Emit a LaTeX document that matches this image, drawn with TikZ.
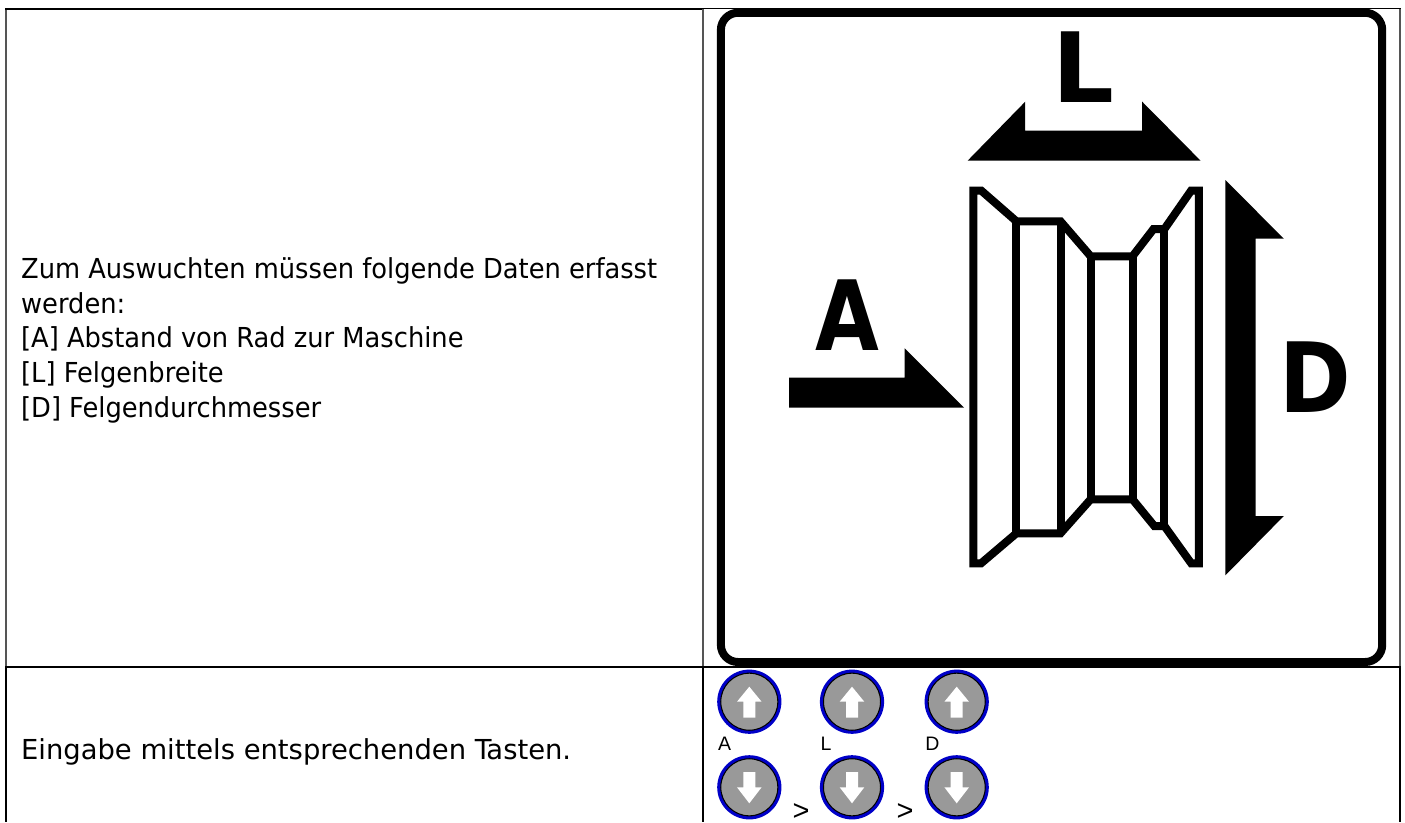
\documentclass[tikz,border=0pt]{standalone}
\usepackage{fontspec}
\newfontfamily\introfont{DejaVu Sans Condensed}[FakeStretch=1.04]
\newfontfamily\entryfont{DejaVu Sans Condensed}[FakeStretch=1.107]
\newfontfamily\symbolfont{DejaVu Sans}[BoldFont={DejaVu Sans Bold}]
\newfontfamily\keyfont{Liberation Sans}
\definecolor{keygray}{HTML}{999999}
\definecolor{keyblue}{HTML}{0000C8}
\definecolor{ruledim}{HTML}{555555}
\tikzset{
  x=1pt,y=-1pt,
  bodytext/.style={anchor=base west,inner sep=0pt,align=left,text=black},
  bigletter/.style={anchor=base,inner sep=0pt,font=\symbolfont\bfseries\fontsize{97}{97}\selectfont},
  keylabel/.style={anchor=base west,inner sep=0pt,font=\keyfont\fontsize{19.5}{19.5}\selectfont},
  gtsign/.style={anchor=base,inner sep=0pt,font=\keyfont\fontsize{29}{29}\selectfont},
  rule/.style={line width=2.2pt,black},
  ruledimmed/.style={line width=1.8pt,ruledim},
  wheel/.style={line width=8pt,line join=miter,miter limit=3,black},
  keybase/.style={circle,draw=black,line width=2pt,fill=keygray,minimum size=58pt,inner sep=0pt},
  keyring/.style={keyblue,line width=3pt},
}
\newcommand{\keypair}[3]{%
  \node[keybase] (#1up) at (#2,701.7) {};
  \draw[keyring] (#1up) circle[radius=30.6];
  \fill[white] (#2,686.7) -- (#2+12.3,701.7) -- (#2+6,701.7) -- (#2+6,717.5) -- (#2-6,717.5) -- (#2-6,701.7) -- (#2-12.3,701.7) -- cycle;
  \node[keybase] (#1down) at (#2,787.3) {};
  \draw[keyring] (#1down) circle[radius=30.6];
  \fill[white] (#2,803.3) -- (#2+12.3,787.3) -- (#2+6,787.3) -- (#2+6,772) -- (#2-6,772) -- (#2-6,787.3) -- (#2-12.3,787.3) -- cycle;
  \node[keylabel] (#1label) at (#2-31.5,750) {#3};
}
\begin{document}
\begin{tikzpicture}
\useasboundingbox (0,0) rectangle (1405,822);
\fill[white] (0,0) rectangle (1405,822);
% table rules
\draw[ruledimmed] (5.8,8) -- (5.8,667);
\draw[ruledimmed] (702.7,8) -- (702.7,667);
\draw[ruledimmed] (1400,8) -- (1400,667);
\draw[rule] (5,8.7) -- (702,8.7);
\draw[line width=1pt,black] (702,8.5) -- (1400.5,8.5);
\draw[rule] (5,666.7) -- (1401,666.7);
\draw[rule] (5.8,666) -- (5.8,822);
\draw[rule] (702.7,666) -- (702.7,822);
\draw[rule] (1400,666) -- (1400,822);
% frame
\draw[black,line width=8pt,rounded corners=17pt] (720.9,12.8) rectangle (1382.2,662);
% L
\node[bigletter] (letterL) at (1083,102.3) {L};
\fill[black] (967.6,160.7) -- (1025.2,101.7) -- (1025.2,130.7) -- (1142.2,130.7) -- (1142.2,101.7) -- (1200.6,160.7) -- cycle;
% wheel
\draw[wheel] (973.3,563.3) -- (973.3,190.5) -- (981.1,190.5) -- (1016.4,221.3) -- (1060.5,221.3) -- (1090.7,256.3) -- (1132.5,256.3) -- (1153.5,229) -- (1164.4,229) -- (1191.2,190.5) -- (1198.8,190.5) -- (1198.8,563.3) -- (1191.2,563.3) -- (1164.4,526) -- (1154.3,526) -- (1132.5,499.3) -- (1090.7,499.3) -- (1060.5,533.3) -- (1016.4,533.3) -- (981.1,563.3) -- cycle;
\draw[wheel] (1016.4,221.3) -- (1016.4,533.3);
\draw[wheel] (1060.5,221.3) -- (1060.5,533.3);
\draw[wheel] (1090.7,256.3) -- (1090.7,499.3);
\draw[wheel] (1132.5,256.3) -- (1132.5,499.3);
\draw[wheel] (1164.4,229) -- (1164.4,526);
% D arrow
\fill[black] (1225.4,180) -- (1283.8,238.7) -- (1255.5,238.7) -- (1255.5,516) -- (1283.8,516) -- (1225.4,575.3) -- cycle;
\node[bigletter] (letterD) at (1315.5,412.3) {\scalebox{0.89}[1]{D}};
% A
\node[bigletter] (letterA) at (847.3,350) {\scalebox{0.85}[1]{A}};
\fill[black] (789.1,377.7) -- (904.7,377.7) -- (904.7,348.3) -- (964,407.7) -- (789.1,407.7) -- cycle;
% text
\node[bodytext,anchor=north west,font=\introfont\fontsize{27.5}{34.9}\selectfont] (intro) at (21,257) {Zum Auswuchten müssen folgende Daten erfasst\\werden:\\{[A]} Abstand von Rad zur Maschine\\{[L]} Felgenbreite\\{[D]} Felgendurchmesser};
\node[bodytext,font=\entryfont\fontsize{27.5}{34.7}\selectfont] (entry) at (21,759) {Eingabe mittels entsprechenden Tasten.};
% keys
\keypair{a}{749.3}{A}
\keypair{l}{852}{L}
\keypair{d}{956.7}{D}
\node[gtsign] (gtone) at (801,820) {>};
\node[gtsign] (gttwo) at (905,820) {>};
\end{tikzpicture}
\end{document}
